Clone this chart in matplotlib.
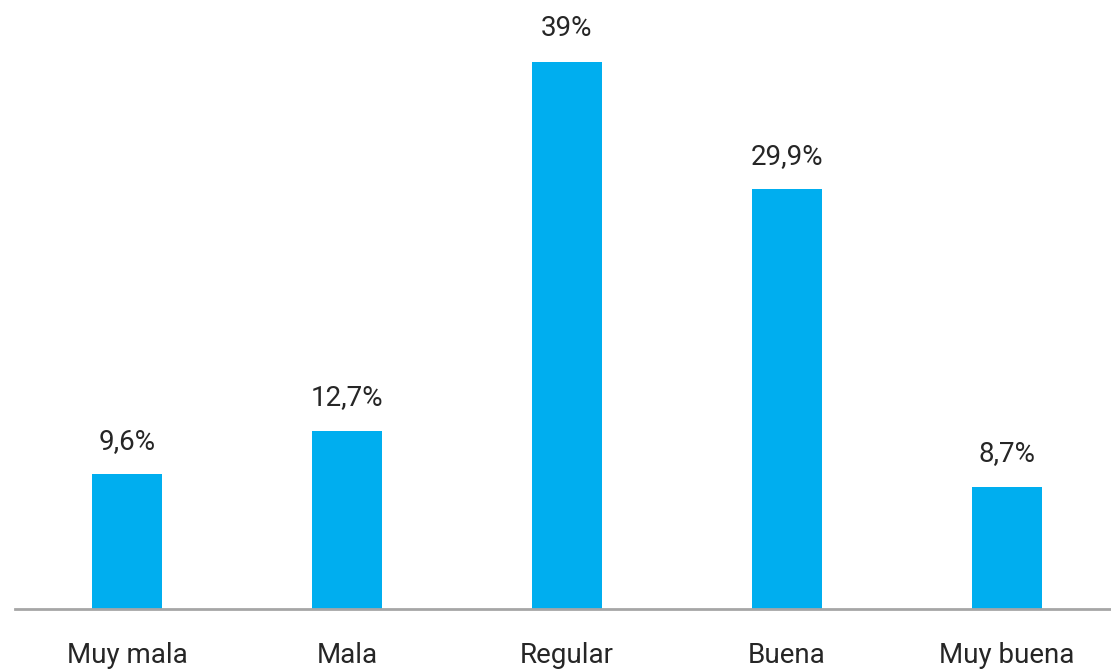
import matplotlib
matplotlib.use('Agg')
import matplotlib.pyplot as plt

categories = ['Muy mala', 'Mala', 'Regular', 'Buena', 'Muy buena']
values = [9.6, 12.7, 39.0, 29.9, 8.7]
value_labels = ['9,6%', '12,7%', '39%', '29,9%', '8,7%']

plt.rcParams['font.family'] = ['Roboto', 'DejaVu Sans']

fig = plt.figure(figsize=(11.11, 6.70), dpi=100)
ax = fig.add_axes([15/1111, 1 - 609/670, 1 - 15/1111, 609/670])

x = list(range(len(categories)))
ax.bar(x, values, width=0.318, color='#00AEEF')

for xi, v, lab in zip(x, values, value_labels):
    ax.annotate(lab, (xi, v), xytext=(0, 14), textcoords='offset points',
                ha='center', va='bottom', fontsize=20, color='#262626')

ax.set_xlim(-0.509, 4.473)
ax.set_ylim(0, 43.4)

for s in ['top', 'right', 'left']:
    ax.spines[s].set_visible(False)
ax.spines['bottom'].set_color('#A6A6A6')
ax.spines['bottom'].set_linewidth(2)

ax.set_yticks([])
ax.set_xticks(x)
ax.set_xticklabels(categories, fontsize=20, color='#262626')
ax.tick_params(axis='x', length=0, pad=24)

fig.savefig('out.png', dpi=100)
